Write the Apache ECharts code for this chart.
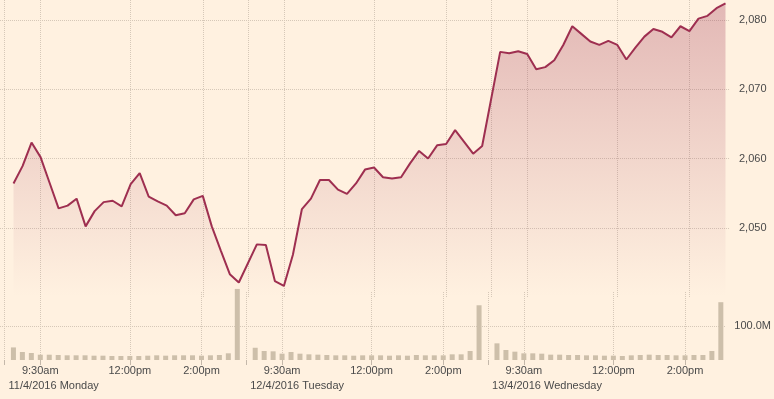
<!DOCTYPE html>
<html>
<head>
<meta charset="utf-8">
<title>Index</title>
<style>
  html, body { margin: 0; padding: 0; background: #fff1e0; }
  #chart { width: 774px; height: 399px; }
</style>
</head>
<body>
<div id="chart"></div>
<script src="https://cdn.jsdelivr.net/npm/echarts@6/dist/echarts.min.js"></script>
<script>
// 15 minute slots of each trading day
var dayTimes = ['8:45', '9:00', '9:15', '9:30', '9:45', '10:00', '10:15', '10:30', '10:45',
  '11:00', '11:15', '11:30', '11:45', '12:00', '12:15', '12:30', '12:45', '13:00', '13:15',
  '13:30', '13:45', '14:00', '14:15', '14:30', '14:45', '15:00'];
var days = ['11/4/2016 Monday', '12/4/2016 Tuesday', '13/4/2016 Wednesday'];
var tickLabels = { '9:30': '9:30am', '12:00': '12:00pm', '14:00': '2:00pm' };

// index level
var price1 = [2056.4, 2058.9, 2062.3, 2060.2, 2056.5, 2052.8, 2053.2, 2054.2, 2050.2, 2052.4,
  2053.7, 2053.9, 2053.1, 2056.3, 2057.9, 2054.5, 2053.8, 2053.2, 2051.8, 2052.1, 2054.1,
  2054.6, 2050.2, 2046.7, 2043.3, 2042.1];
var price2 = [2047.6, 2047.5, 2042.3, 2041.6, 2046.1, 2052.7, 2054.2, 2056.9, 2056.9, 2055.5,
  2054.9, 2056.4, 2058.4, 2058.7, 2057.3, 2057.1, 2057.3, 2059.3, 2061.1, 2060.0, 2061.9,
  2062.1, 2064.1, 2062.4, 2060.7, 2061.8];
var price3 = [2075.4, 2075.2, 2075.5, 2075.1, 2072.9, 2073.2, 2074.2, 2076.4, 2079.1, 2078.0,
  2076.9, 2076.4, 2077.0, 2076.4, 2074.3, 2076.0, 2077.6, 2078.7, 2078.3, 2077.5, 2079.1,
  2078.4, 2080.2, 2080.6, 2081.7, 2082.4];

// volume, millions
var vol1 = [37, 23.5, 20.6, 15.6, 15.6, 14.7, 13.8, 13.8, 13.8, 12.7, 12.7, 11.8, 11.8, 11.8,
  11.8, 12.7, 13.8, 12.7, 13.8, 13.8, 13.8, 12.7, 13.8, 14.7, 19.7, 209];
var vol2 = [36, 26.5, 25.5, 18.6, 23.5, 18.6, 16.7, 15.7, 14.7, 13.7, 13.7, 12.7, 13.7, 13.7,
  13.7, 12.7, 13.7, 12.7, 14.7, 13.7, 13.7, 13.7, 16.7, 16.7, 26.5, 161];
var vol3 = [49, 29.4, 24.5, 19.6, 19.6, 18.6, 15.7, 15.7, 14.7, 14.7, 13.7, 13.7, 12.7, 12.7,
  11.8, 13.7, 14.7, 15.7, 14.7, 14.7, 13.7, 13.7, 14.7, 14.7, 26.5, 170];

// build slots: one empty separator slot before each day
var cats = [], timeOf = [], dayOf = [], priceData = [], volData = [];
var prices = [price1, price2, price3], vols = [vol1, vol2, vol3];
days.forEach(function (d, di) {
  cats.push(d + '|');
  timeOf.push('');
  dayOf.push(d);
  priceData.push(null);
  volData.push(null);
  dayTimes.forEach(function (t, ti) {
    cats.push(d + '|' + t);
    timeOf.push(t);
    dayOf.push('');
    priceData.push(prices[di][ti]);
    volData.push(vols[di][ti]);
  });
});

function isMark(i) {
  return dayOf[i] !== '' || tickLabels[timeOf[i]] !== undefined;
}

var gridColor = '#d6c8b8';
var textColor = '#4a4a4a';
var font = 'Arial, "Liberation Sans", sans-serif';

var myChart = echarts.init(document.getElementById('chart'), null, { renderer: 'canvas' });

var option = {
  backgroundColor: '#fff1e0',
  animation: false,
  grid: [
    { left: 0, width: 730, top: 0, height: 297 },
    { left: 0, width: 730, top: 292, height: 68 }
  ],
  xAxis: [
    {
      type: 'category', gridIndex: 0, data: cats, boundaryGap: true,
      axisLine: { show: false }, axisTick: { show: false }, axisLabel: { show: false },
      splitLine: {
        show: true, alignWithLabel: true,
        interval: function (i) { return isMark(i); },
        lineStyle: { color: gridColor, type: 'dotted', width: 1 }
      }
    },
    {
      type: 'category', gridIndex: 1, data: cats, boundaryGap: true, position: 'bottom',
      axisLine: { show: false },
      axisTick: {
        show: true, alignWithLabel: true, length: 5,
        interval: function (i) { return isMark(i); },
        lineStyle: { color: '#c4b8aa' }
      },
      axisLabel: {
        margin: 5, color: textColor, fontSize: 11, fontFamily: font,
        interval: function (i) { return tickLabels[timeOf[i]] !== undefined; },
        formatter: function (v, i) { return tickLabels[timeOf[i]] || ''; }
      },
      splitLine: {
        show: true, alignWithLabel: true,
        interval: function (i) { return isMark(i); },
        lineStyle: { color: gridColor, type: 'dotted', width: 1 }
      }
    },
    {
      type: 'category', gridIndex: 1, data: cats, boundaryGap: true, position: 'bottom',
      axisLine: { show: false }, axisTick: { show: false }, splitLine: { show: false },
      axisLabel: {
        margin: 20, color: textColor, fontSize: 11, fontFamily: font,
        align: 'left', padding: [0, 0, 0, 4],
        interval: function (i) { return dayOf[i] !== ''; },
        formatter: function (v, i) { return dayOf[i]; }
      }
    }
  ],
  yAxis: [
    {
      type: 'value', gridIndex: 0, position: 'right',
      min: 2040, max: 2082.89, interval: 10,
      axisLine: { show: false }, axisTick: { show: false },
      axisLabel: {
        margin: 9, color: textColor, fontSize: 11, fontFamily: font,
        formatter: function (v) {
          if (v % 10 !== 0 || v < 2050) return '';
          return echarts.format.addCommas(v);
        }
      },
      splitLine: {
        show: true, showMinLine: false, showMaxLine: false,
        lineStyle: { color: gridColor, type: 'dotted', width: 1 }
      }
    },
    {
      type: 'value', gridIndex: 1, position: 'right',
      min: 0, max: 200, interval: 100,
      axisLine: { show: false }, axisTick: { show: false },
      axisLabel: {
        margin: 9, color: textColor, fontSize: 11, fontFamily: font,
        formatter: function (v) { return v === 100 ? '100.0M' : ''; }
      },
      splitLine: {
        show: true, showMinLine: false, showMaxLine: false,
        lineStyle: { color: gridColor, type: 'dotted', width: 1 }
      }
    }
  ],
  series: [
    {
      name: 'Volume', type: 'bar', xAxisIndex: 1, yAxisIndex: 1,
      data: volData, barWidth: 5, clip: false,
      itemStyle: { color: '#cdbfaa' }
    },
    {
      name: 'Index', type: 'line', xAxisIndex: 0, yAxisIndex: 0,
      data: priceData, connectNulls: true, symbol: 'none', z: 5,
      lineStyle: { color: '#9e2f50', width: 2 },
      areaStyle: {
        color: new echarts.graphic.LinearGradient(0, 0, 0, 1, [
          { offset: 0, color: 'rgba(158,47,80,0.42)' },
          { offset: 0.92, color: 'rgba(158,47,80,0.03)' },
          { offset: 1, color: 'rgba(158,47,80,0)' }
        ])
      }
    }
  ]
};

myChart.setOption(option);
</script>
</body>
</html>
